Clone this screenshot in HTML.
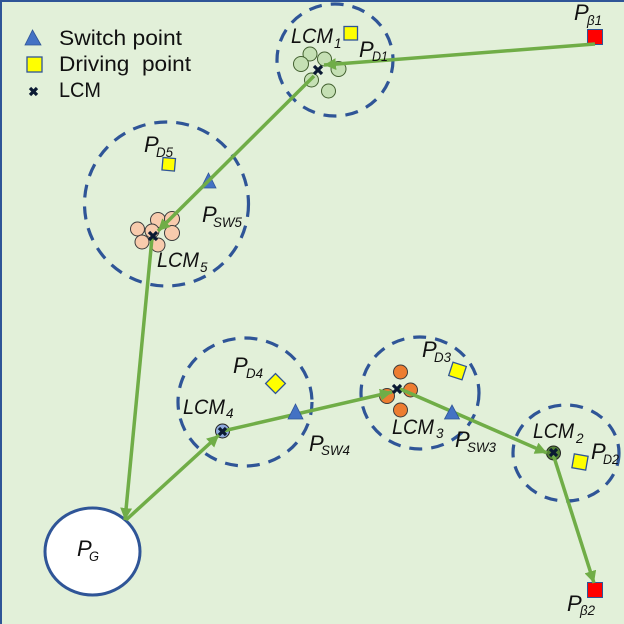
<!DOCTYPE html>
<html><head><meta charset="utf-8"><style>
html,body{margin:0;padding:0;background:#E2F0D9}
svg{display:block}
text{font-family:"Liberation Sans",sans-serif;fill:#111}
.i{font-style:italic;font-size:21px}
.p{font-style:italic;font-size:22px}
.s{font-style:italic;font-size:13.500px}
.l{font-size:21px}
</style></head><body>
<svg width="624" height="624" viewBox="0 0 624 624" xmlns="http://www.w3.org/2000/svg">
<defs>
<marker id="a" markerUnits="userSpaceOnUse" markerWidth="13" markerHeight="12" refX="12" refY="6" orient="auto"><path d="M0 0L12 6L0 12z" fill="#70AD47"/></marker>
</defs>
<rect width="624" height="624" fill="#E2F0D9"/>
<path d="M1 624V1H624" fill="none" stroke="#2F5597" stroke-width="2"/>
<g fill="none" stroke="#2F5597" stroke-width="3.200" stroke-dasharray="13 9">
<ellipse cx="335" cy="60" rx="58" ry="56"/>
<ellipse cx="166.500" cy="204" rx="82" ry="82"/>
<ellipse cx="245" cy="402" rx="67" ry="64"/>
<ellipse cx="420" cy="393" rx="59" ry="56"/>
<ellipse cx="566" cy="453" rx="53" ry="48"/>
</g>
<ellipse cx="92.500" cy="551.500" rx="47.500" ry="43.500" fill="#fff" stroke="#2F5597" stroke-width="3"/>

<g stroke-width="1">
<g stroke="#42602f" fill="#C5E0B4">
<circle cx="310" cy="54" r="7"/><circle cx="301" cy="64" r="7.500"/><circle cx="324.500" cy="59" r="7"/><circle cx="338.500" cy="69" r="7.500"/><circle cx="311.500" cy="80" r="7"/><circle cx="328.500" cy="91" r="7"/>
</g>
<g stroke="#3b3b3b" fill="#F8CBAD">
<circle cx="158" cy="220" r="7.500"/><circle cx="172" cy="219" r="7.500"/><circle cx="137.500" cy="229" r="7"/><circle cx="172" cy="233" r="7.500"/><circle cx="152" cy="231" r="7"/><circle cx="142" cy="242" r="7"/><circle cx="158" cy="245" r="7"/>
</g>
<g stroke="#3b3b3b" fill="#ED7D31">
<circle cx="400.500" cy="372" r="7"/><circle cx="387" cy="396" r="7.500"/><circle cx="410.500" cy="390" r="7"/><circle cx="400.500" cy="410" r="7"/>
</g>
</g>
<circle cx="222.500" cy="431" r="7" fill="#8FAADC" stroke="#222"/>
<circle cx="553.500" cy="453" r="7" fill="#548235" stroke="#222"/>

<g fill="#FF0000" stroke="#2F5597" stroke-width="1">
<rect x="587.500" y="29.500" width="15" height="15"/>
<rect x="587.500" y="582.500" width="15" height="15"/>
</g>
<path d="M208.500 173L216 188H201z" fill="#4472C4" stroke="#2F5597" stroke-width=".8"/>

<g stroke="#70AD47" stroke-width="3.500" fill="none">
<path d="M595 44L324 65" marker-end="url(#a)"/>
<path d="M314 76L158 231" marker-end="url(#a)"/>
<path d="M152 238L125 520" marker-end="url(#a)"/>
<path d="M126 520L219 435" marker-end="url(#a)"/>
<path d="M223 431L392 392" marker-end="url(#a)"/>
<path d="M398 388L547 453" marker-end="url(#a)"/>
<path d="M553 454L594 583" marker-end="url(#a)"/>
</g>

<g fill="#4472C4" stroke="#2F5597" stroke-width=".8">
<path d="M32.500 30L41 45H25z"/>
<path d="M295.500 404L303 419H288z"/>
<path d="M452 405L459.500 419H444.500z"/>
</g>
<g fill="#FFFF00" stroke="#2F5597" stroke-width="1.300">
<rect x="27" y="57" width="15" height="15"/>
<rect x="344" y="26.500" width="13.500" height="13.500"/>
<rect x="162.500" y="158" width="12.500" height="12.500" transform="rotate(5 168.500 164)"/>
<rect x="268.500" y="376.500" width="14" height="14" transform="rotate(45 275.500 383.500)"/>
<rect x="450.500" y="364" width="14" height="14" transform="rotate(18 457.500 371)"/>
<rect x="573" y="455" width="14" height="14" transform="rotate(10 580 462)"/>
</g>

<g stroke="#0b1a33" stroke-width="3.200" fill="none">
<path d="M30 88L37 95M37 88L30 95"/>
<path d="M314 66L322 74M322 66L314 74"/>
<path d="M149 232L157 240M157 232L149 240"/>
<path d="M393 385L401 393M401 385L393 393"/>
<path d="M219 428L226 435M226 428L219 435"/>
<path d="M550 449L557 456M557 449L550 456"/>
</g>

<text class="l" x="59" y="45" textLength="123" lengthAdjust="spacingAndGlyphs">Switch point</text>
<text class="l" x="59" y="71" textLength="132" lengthAdjust="spacingAndGlyphs" style="white-space:pre">Driving  point</text>
<text class="l" x="59" y="97" textLength="42" lengthAdjust="spacingAndGlyphs">LCM</text>

<text class="i" x="291" y="43" textLength="42" lengthAdjust="spacingAndGlyphs">LCM</text><text class="s" x="334" y="48">1</text>
<text class="p" x="359" y="57">P</text><text class="s" x="372" y="61" textLength="16" lengthAdjust="spacingAndGlyphs">D1</text>
<text class="p" x="144" y="152">P</text><text class="s" x="156" y="157" textLength="17" lengthAdjust="spacingAndGlyphs">D5</text>
<text class="p" x="202" y="222">P</text><text class="s" x="213" y="227" textLength="29" lengthAdjust="spacingAndGlyphs">SW5</text>
<text class="i" x="157" y="267" textLength="42" lengthAdjust="spacingAndGlyphs">LCM</text><text class="s" x="200" y="272">5</text>
<text class="p" x="233" y="373">P</text><text class="s" x="246" y="378" textLength="17" lengthAdjust="spacingAndGlyphs">D4</text>
<text class="i" x="183" y="414" textLength="42" lengthAdjust="spacingAndGlyphs">LCM</text><text class="s" x="226" y="418">4</text>
<text class="p" x="309" y="451">P</text><text class="s" x="321" y="455" textLength="29" lengthAdjust="spacingAndGlyphs">SW4</text>
<text class="p" x="422" y="357">P</text><text class="s" x="434" y="362" textLength="17" lengthAdjust="spacingAndGlyphs">D3</text>
<text class="i" x="392" y="434" textLength="42" lengthAdjust="spacingAndGlyphs">LCM</text><text class="s" x="436" y="438">3</text>
<text class="p" x="455" y="447">P</text><text class="s" x="467" y="452" textLength="29" lengthAdjust="spacingAndGlyphs">SW3</text>
<text class="i" x="533" y="438" textLength="41" lengthAdjust="spacingAndGlyphs">LCM</text><text class="s" x="576" y="443">2</text>
<text class="p" x="591" y="459">P</text><text class="s" x="603" y="464" textLength="16" lengthAdjust="spacingAndGlyphs">D2</text>
<text class="p" x="574" y="20">P</text><text class="s" x="587" y="25" textLength="15" lengthAdjust="spacingAndGlyphs">β1</text>
<text class="p" x="567" y="611">P</text><text class="s" x="580" y="615" textLength="15" lengthAdjust="spacingAndGlyphs">β2</text>
<text class="p" x="77" y="556">P</text><text class="s" x="89" y="561" textLength="10" lengthAdjust="spacingAndGlyphs">G</text>
</svg>
</body></html>
